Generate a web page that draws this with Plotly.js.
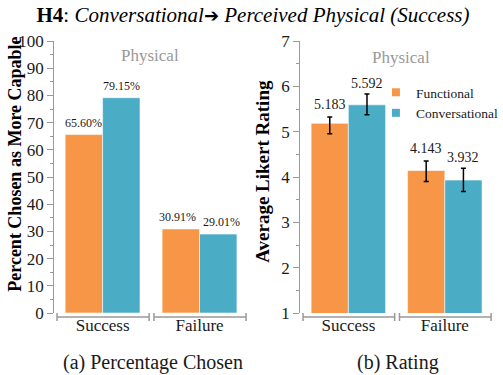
<!DOCTYPE html>
<html>
<head>
<meta charset="utf-8">
<script src="https://cdn.plot.ly/plotly-3.0.1.min.js"></script>
<style>
  html, body { margin: 0; padding: 0; background: #fff; }
  #chart { width: 503px; height: 375px; }
</style>
</head>
<body>
<div id="chart"></div>
<script>
// Condition categories on the x axis
const categories = ['Success', 'Failure'];
const seriesNames = ['Functional', 'Conversational'];

// (a) Percent of participants choosing each robot as more capable
const pctFunctional = [65.60, 30.91];
const pctConversational = [79.15, 29.01];

// (b) Average Likert rating with error bars
const rateFunctional = [5.183, 4.143];
const rateConversational = [5.592, 3.932];
const errFunctionalPlus = [0.14, 0.21];
const errFunctionalMinus = [0.23, 0.24];
const errConversationalPlus = [0.24, 0.26];
const errConversationalMinus = [0.22, 0.25];

const ORANGE = '#F79646';
const TEAL = '#4BACC6';
const GREY = '#999999';
const SERIF = '"Liberation Serif", "Times New Roman", Times, serif';
const INK = '#1a1a1a';

const barLine = { color: 'rgba(255,255,255,0.55)', width: 1 };
const errStyle = (plus, minus) => ({
  type: 'data', symmetric: false, array: plus, arrayminus: minus,
  color: '#000', thickness: 1.5, width: 2.5
});

const traces = [
  { type: 'bar', x: categories, y: pctFunctional, name: seriesNames[0],
    marker: { color: ORANGE, line: barLine }, xaxis: 'x', yaxis: 'y',
    showlegend: false, hoverinfo: 'skip' },
  { type: 'bar', x: categories, y: pctConversational, name: seriesNames[1],
    marker: { color: TEAL, line: barLine }, xaxis: 'x', yaxis: 'y',
    showlegend: false, hoverinfo: 'skip' },
  { type: 'bar', x: categories, y: rateFunctional, name: seriesNames[0],
    marker: { color: ORANGE, line: barLine }, xaxis: 'x2', yaxis: 'y2',
    error_y: errStyle(errFunctionalPlus, errFunctionalMinus),
    showlegend: false, hoverinfo: 'skip' },
  { type: 'bar', x: categories, y: rateConversational, name: seriesNames[1],
    marker: { color: TEAL, line: barLine }, xaxis: 'x2', yaxis: 'y2',
    error_y: errStyle(errConversationalPlus, errConversationalMinus),
    showlegend: false, hoverinfo: 'skip' },
  // legend entries with small square swatches
  { type: 'scatter', mode: 'markers', x: [null], y: [null], name: seriesNames[0],
    marker: { symbol: 'square', size: 8, color: ORANGE }, xaxis: 'x2', yaxis: 'y2' },
  { type: 'scatter', mode: 'markers', x: [null], y: [null], name: seriesNames[1],
    marker: { symbol: 'square', size: 8, color: TEAL }, xaxis: 'x2', yaxis: 'y2' }
];

const BARGAP = 0.228;
const half = (1 - BARGAP) / 4; // centre offset of each bar inside its group

const label = (xref, yref, x, y, text, size, extra) => Object.assign({
  xref: xref, yref: yref, x: x, y: y, text: text, showarrow: false,
  xanchor: 'center', yanchor: 'bottom', yshift: 3,
  font: { family: SERIF, size: size, color: INK }
}, extra || {});

const annotations = [];
// value labels above each bar
categories.forEach((c, i) => {
  const spread = i === 1 ? 3 : 0;
  annotations.push(label('x', 'y', i - half, pctFunctional[i],
    pctFunctional[i].toFixed(2) + '%', 12, { xshift: -spread }));
  annotations.push(label('x', 'y', i + half, pctConversational[i],
    pctConversational[i].toFixed(2) + '%', 12, { xshift: spread }));
  annotations.push(label('x2', 'y2', i - half, rateFunctional[i] + errFunctionalPlus[i],
    rateFunctional[i].toFixed(3), 14));
  annotations.push(label('x2', 'y2', i + half, rateConversational[i] + errConversationalPlus[i],
    rateConversational[i].toFixed(3), 14, { yshift: 1 }));
});

// panel headers, axis titles, sub-captions
const paperText = (x, y, text, size, color, angle) => ({
  xref: 'paper', yref: 'paper', x: x / 503, y: 1 - y / 375, text: text, showarrow: false,
  xanchor: 'center', yanchor: 'middle', textangle: angle || 0,
  font: { family: SERIF, size: size, color: color }
});
annotations.push(
  paperText(152.5, 56, 'Physical', 17, GREY),
  paperText(407.5, 57, 'Physical', 17, GREY),
  paperText(15, 164, '<b>Percent Chosen as More Capable</b>', 18, '#000', -90),
  paperText(266.5, 171.5, '<b>Average Likert Rating</b>', 19, '#000', -90),
  paperText(155, 362, '(a) Percentage Chosen', 20, INK),
  paperText(404, 362, '(b) Rating', 20, INK)
);

// bracket under each category
const shapes = [];
const yLine = 1 - 317 / 375, yTop = 1 - 313 / 375, yBot = 1 - 321 / 375;
['x', 'x2'].forEach(ax => {
  categories.forEach((c, i) => {
    const x0 = i - 0.47, x1 = i + 0.48;
    const ln = { color: GREY, width: 1.5 };
    shapes.push({ type: 'line', xref: ax, yref: 'paper', x0: x0, x1: x1, y0: yLine, y1: yLine, line: ln });
    shapes.push({ type: 'line', xref: ax, yref: 'paper', x0: x0, x1: x0, y0: yTop, y1: yBot, line: ln });
    shapes.push({ type: 'line', xref: ax, yref: 'paper', x0: x1, x1: x1, y0: yTop, y1: yBot, line: ln });
  });
});

const yDomain = [1 - 313 / 375, 1 - 41 / 375];
const xAxisBase = {
  type: 'category', range: [-0.5, 1.5], showline: false, showgrid: false, zeroline: false,
  ticks: '', tickfont: { family: SERIF, size: 17, color: INK }, fixedrange: true
};
const yAxisBase = {
  showline: true, linecolor: GREY, linewidth: 1, showgrid: false, zeroline: false,
  ticks: 'outside', ticklen: 6, tickcolor: GREY, tickwidth: 1,
  tickfont: { family: SERIF, size: 17, color: INK }, fixedrange: true
};

const layout = {
  width: 503, height: 375,
  margin: { l: 0, r: 0, t: 0, b: 0 },
  font: { family: SERIF },
  paper_bgcolor: '#fff', plot_bgcolor: '#fff',
  barmode: 'group', bargap: BARGAP, bargroupgap: 0,
  title: {
    text: '<b>H4</b>: <i>Conversational</i>' +
      '<span style="font-family:DejaVu Sans;font-size:18px">➔</span><i> Perceived Physical (Success)</i>',
    x: 253 / 503, xanchor: 'center', y: 1 - 15 / 375, yanchor: 'middle', yref: 'paper',
    font: { family: SERIF, size: 21, color: '#000' }
  },
  xaxis: Object.assign({}, xAxisBase, { domain: [55 / 503, 252 / 503], anchor: 'y' }),
  yaxis: Object.assign({}, yAxisBase, { domain: yDomain, range: [0, 100], dtick: 10, anchor: 'x',
    minor: { dtick: 5, ticks: 'outside', ticklen: 3, tickcolor: GREY } }),
  xaxis2: Object.assign({}, xAxisBase, { domain: [305 / 503, 501 / 503], anchor: 'y2' }),
  yaxis2: Object.assign({}, yAxisBase, { domain: yDomain, range: [1, 7], dtick: 1, anchor: 'x2',
    minor: { dtick: 0.5, ticks: 'outside', ticklen: 3, tickcolor: GREY } }),
  showlegend: true,
  legend: {
    x: (422 - 40) / 503, xanchor: 'left', y: 1 - 77 / 375, yanchor: 'top',
    bgcolor: 'rgba(0,0,0,0)', font: { family: SERIF, size: 13.5, color: INK },
    tracegroupgap: 0, itemwidth: 30
  },
  annotations: annotations,
  shapes: shapes
};

Plotly.newPlot('chart', traces, layout, { displayModeBar: false, staticPlot: true });
</script>
</body>
</html>
